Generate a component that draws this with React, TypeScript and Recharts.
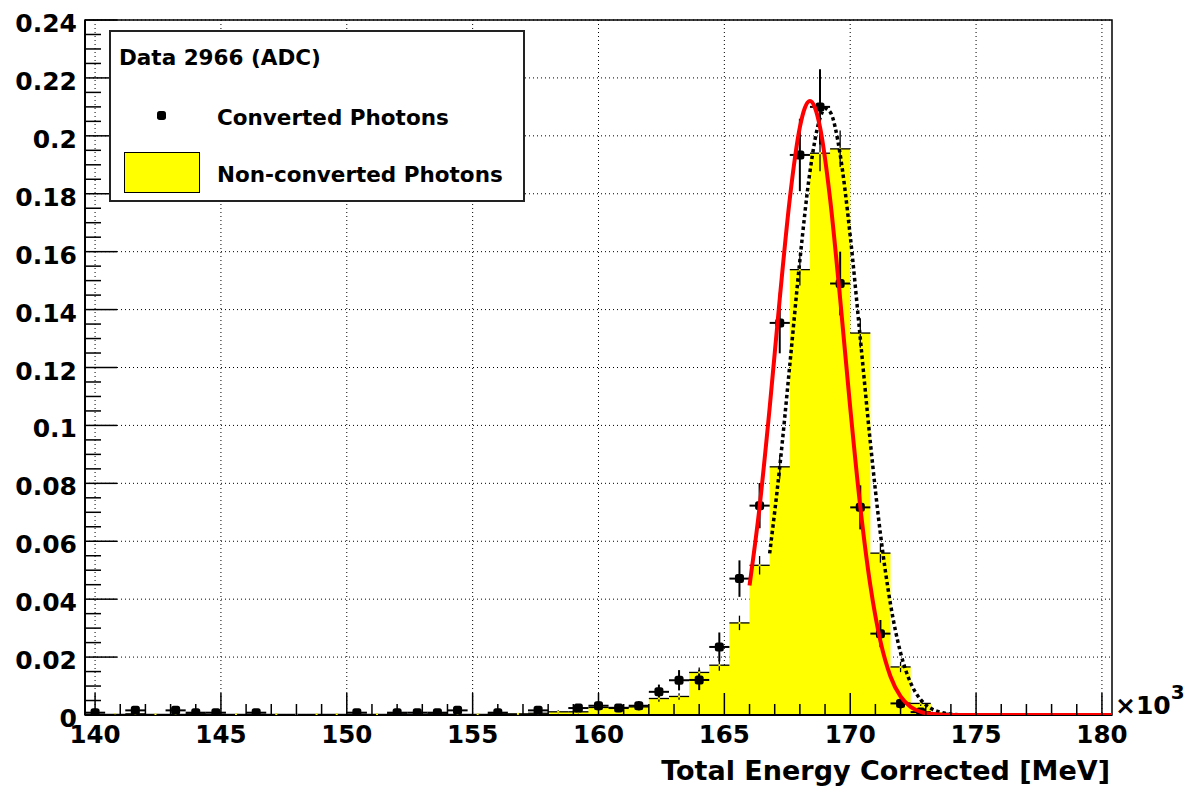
import {
  ComposedChart,
  Area,
  Scatter,
  ErrorBar,
  XAxis,
  YAxis,
  CartesianGrid,
  ReferenceArea,
  Legend,
} from 'recharts'

const WIDTH = 1186
const HEIGHT = 791
const FONT = '"DejaVu Sans", Verdana, sans-serif'

// histogram binning, x in units of 10^3 MeV
const BIN_START = 139.6
const BIN_WIDTH = 0.8

// normalised bin contents, 51 bins from 139.6 to 180.4
const convertedPhotons = [
  0.0008, 0, 0.0016, 0, 0.0016, 0.0008, 0.0008, 0, 0.0008, 0,
  0, 0, 0, 0.0008, 0, 0.0008, 0.0008, 0.0008, 0.0016, 0,
  0.0008, 0, 0.0016, 0, 0.0024, 0.0032, 0.0024, 0.0032, 0.008, 0.012,
  0.0121, 0.0235, 0.0471, 0.0723, 0.1354, 0.1934, 0.21, 0.149, 0.0717, 0.0281,
  0.004, 0.001, 0, 0, 0, 0, 0, 0, 0, 0, 0,
]
const convertedErrors = [
  0.0008, 0, 0.0011, 0, 0.0011, 0.0008, 0.0008, 0, 0.0008, 0,
  0, 0, 0, 0.0008, 0, 0.0008, 0.0008, 0.0008, 0.0011, 0,
  0.0008, 0, 0.0011, 0, 0.0014, 0.0016, 0.0014, 0.0016, 0.0025, 0.0035,
  0.0035, 0.005, 0.0063, 0.0078, 0.0105, 0.0125, 0.013, 0.011, 0.0076, 0.0047,
  0.0018, 0.0009, 0, 0, 0, 0, 0, 0, 0, 0, 0,
]
const nonConvertedPhotons = [
  0.0002, 0.0002, 0.0004, 0.0002, 0.0002, 0.0004, 0.0002, 0.0002, 0.0002, 0.0002,
  0.0002, 0.0002, 0.0002, 0.0002, 0.0002, 0.0004, 0.0002, 0.0004, 0.0002, 0.0002,
  0.0004, 0.0004, 0.0006, 0.0011, 0.0011, 0.0026, 0.0026, 0.0028, 0.0057, 0.0064,
  0.0147, 0.0172, 0.0318, 0.0517, 0.0857, 0.1538, 0.194, 0.1955, 0.1319, 0.0559,
  0.0166, 0.004, 0.0006, 0, 0, 0, 0, 0, 0, 0, 0,
]
const nonConvertedErrors = [
  0.0002, 0.0002, 0.0003, 0.0002, 0.0002, 0.0003, 0.0002, 0.0002, 0.0002, 0.0002,
  0.0002, 0.0002, 0.0002, 0.0002, 0.0002, 0.0003, 0.0002, 0.0003, 0.0002, 0.0002,
  0.0003, 0.0003, 0.0004, 0.0005, 0.0005, 0.0007, 0.0007, 0.0008, 0.0011, 0.0011,
  0.0017, 0.0019, 0.0025, 0.0032, 0.0041, 0.0055, 0.0062, 0.0063, 0.0051, 0.0033,
  0.0018, 0.0009, 0.0003, 0, 0, 0, 0, 0, 0, 0, 0,
]

// gaussian fit to the converted photons (red)
const convertedFitX = [
  166.0, 166.4, 166.8, 167.2, 167.6, 168.0, 168.2, 168.4, 168.6, 168.8,
  169.2, 169.6, 170.0, 170.4, 170.8, 171.2, 171.6, 172.0, 172.4, 172.8,
  173.2, 173.6, 174.2, 175.0, 176.0, 178.0, 180.4,
]
const convertedFitY = [
  0.0447, 0.0719, 0.1061, 0.1437, 0.1783, 0.203, 0.2097, 0.212, 0.2097, 0.203,
  0.1783, 0.1437, 0.1061, 0.0719, 0.0447, 0.0255, 0.0133, 0.0064, 0.0028, 0.0011,
  0.0004, 0.0001, 0, 0, 0, 0, 0,
]

// gaussian fit to the non-converted photons (black dotted)
const nonConvertedFitX = [
  166.8, 167.2, 167.6, 168.0, 168.4, 168.8, 169.0, 169.2, 169.6, 170.0,
  170.4, 170.8, 171.2, 171.6, 172.0, 172.4, 172.8, 173.2, 173.6, 174.0,
  174.8, 176.0, 178.0, 180.4,
]
const nonConvertedFitY = [
  0.0558, 0.0856, 0.1209, 0.157, 0.1876, 0.2061, 0.2094, 0.2083, 0.1936, 0.1655,
  0.1301, 0.0941, 0.0626, 0.0383, 0.0215, 0.0111, 0.0053, 0.0023, 0.0009, 0.0003,
  0, 0, 0, 0,
]

const xMajorTicks = [140, 145, 150, 155, 160, 165, 170, 175, 180]
const yMajorTicks = [0, 0.02, 0.04, 0.06, 0.08, 0.1, 0.12, 0.14, 0.16, 0.18, 0.2, 0.22, 0.24]

// minor ticks: every 1 on x, every 0.005 on y
const xAllTicks = Array.from({ length: 41 }, (_, i) => 140 + i)
const yAllTicks = Array.from({ length: 49 }, (_, i) => Number((i * 0.005).toFixed(3)))

const isMajor = (list: number[], v: number) => list.some((m) => Math.abs(m - v) < 1e-9)

// yellow histogram as a step area over the bin edges
const histEdges = nonConvertedPhotons.map((v, i) => ({ x: BIN_START + i * BIN_WIDTH, nonConv: v }))
histEdges.push({ x: BIN_START + nonConvertedPhotons.length * BIN_WIDTH, nonConv: 0 })

const binCenter = (i: number) => BIN_START + (i + 0.5) * BIN_WIDTH

const convertedPoints = convertedPhotons
  .map((y, i) => ({ x: binCenter(i), y, ex: BIN_WIDTH / 2, ey: convertedErrors[i] }))
  .filter((p) => p.y > 0)

const nonConvertedPoints = nonConvertedPhotons
  .map((y, i) => ({ x: binCenter(i), y, ex: BIN_WIDTH / 2, ey: nonConvertedErrors[i] }))
  .filter((p) => p.y > 0)

const convertedFit = convertedFitX.map((x, i) => ({ x, y: convertedFitY[i] }))
const nonConvertedFit = nonConvertedFitX.map((x, i) => ({ x, y: nonConvertedFitY[i] }))

const XTick = (props: any) => {
  const { x, y, payload } = props
  const major = isMajor(xMajorTicks, payload.value)
  return (
    <g>
      <line x1={x} x2={x} y1={y} y2={y - (major ? 22 : 11)} stroke="#000" strokeWidth={1.5} />
      {major && (
        <text x={x} y={y + 28} textAnchor="middle" fontFamily={FONT} fontWeight="bold" fontSize={24.5} fill="#000">
          {payload.value}
        </text>
      )}
    </g>
  )
}

const YTick = (props: any) => {
  const { x, y, payload } = props
  const major = isMajor(yMajorTicks, payload.value)
  return (
    <g>
      <line x1={x} x2={x + (major ? 32 : 16)} y1={y} y2={y} stroke="#000" strokeWidth={1.5} />
      {major && (
        <text x={x - 8} y={y + 12} textAnchor="end" fontFamily={FONT} fontWeight="bold" fontSize={25} fill="#000">
          {String(Number(payload.value.toFixed(2)))}
        </text>
      )}
    </g>
  )
}

const XTitle = (props: any) => {
  const { x, y, width } = props.viewBox
  const right = x + width
  return (
    <g fontFamily={FONT} fontWeight="bold" fill="#000">
      <text x={right - 2} y={y + 65} textAnchor="end" fontSize={27}>
        Total Energy Corrected [MeV]
      </text>
      <text x={right + 3} y={y - 1} fontSize={25}>
        ×10
        <tspan dy={-15} fontSize={20}>
          3
        </tspan>
      </text>
    </g>
  )
}

const LegendBox = () => (
  <div
    style={{
      width: 416,
      height: 172,
      boxSizing: 'border-box',
      border: '2px solid #222',
      background: '#fff',
      position: 'relative',
      fontFamily: FONT,
      fontWeight: 'bold',
      color: '#000',
      lineHeight: '22px',
      whiteSpace: 'nowrap',
    }}
  >
    <div style={{ position: 'absolute', left: 8, top: 15, fontSize: 21.5 }}>Data 2966 (ADC)</div>
    <div
      style={{
        position: 'absolute',
        left: 46,
        top: 79,
        width: 9,
        height: 9,
        borderRadius: '30%',
        background: '#000',
      }}
    />
    <div style={{ position: 'absolute', left: 106, top: 75, fontSize: 21.5 }}>Converted Photons</div>
    <div
      style={{
        position: 'absolute',
        left: 13,
        top: 120,
        width: 76,
        height: 41,
        boxSizing: 'border-box',
        border: '1.5px solid #000',
        background: '#ffff00',
      }}
    />
    <div style={{ position: 'absolute', left: 106, top: 132, fontSize: 21.5 }}>Non-converted Photons</div>
  </div>
)

// filled marker for the converted photons, a rounded square like the plotted points
const DotMarker = (props: any) => (
  <rect x={props.cx - 4.5} y={props.cy - 4.5} width={9} height={9} rx={2.5} fill="#000" />
)
const TinyMarker = (props: any) => (
  <rect x={props.cx - 1} y={props.cy - 1} width={2} height={2} fill="#ffff00" />
)
const NoMarker = () => <g />

export default function App() {
  return (
    <div style={{ position: 'absolute', left: 0, top: 0, width: WIDTH, height: HEIGHT, background: '#fff' }}>
      <ComposedChart
        width={WIDTH}
        height={HEIGHT}
        data={histEdges}
        margin={{ top: 20, right: 74, bottom: 75, left: 84 }}
      >
        <CartesianGrid
          stroke="#000"
          strokeDasharray="1 3"
          verticalValues={xMajorTicks}
          horizontalValues={yMajorTicks}
        />
        <XAxis
          type="number"
          dataKey="x"
          domain={[BIN_START, BIN_START + 51 * BIN_WIDTH]}
          allowDataOverflow
          ticks={xAllTicks}
          interval={0}
          tickSize={0}
          tickMargin={0}
          tickLine={false}
          tick={<XTick />}
          axisLine={{ stroke: '#000', strokeWidth: 2 }}
          height={1}
          label={<XTitle />}
        />
        <YAxis
          type="number"
          domain={[0, 0.24]}
          allowDataOverflow
          ticks={yAllTicks}
          interval={0}
          tickSize={0}
          tickMargin={0}
          tickLine={false}
          tick={<YTick />}
          axisLine={{ stroke: '#000', strokeWidth: 2 }}
          width={1}
        />
        <Area
          type="stepAfter"
          dataKey="nonConv"
          stroke="none"
          fill="#ffff00"
          fillOpacity={1}
          isAnimationActive={false}
        />
        <ReferenceArea
          x1={BIN_START}
          x2={BIN_START + 51 * BIN_WIDTH}
          y1={0}
          y2={0.24}
          fill="none"
          stroke="#000"
          strokeWidth={1.5}
        />
        <Scatter data={nonConvertedPoints} dataKey="y" shape={<TinyMarker />} isAnimationActive={false}>
          <ErrorBar dataKey="ex" direction="x" width={0} stroke="#000" strokeWidth={1.3} />
          <ErrorBar dataKey="ey" direction="y" width={0} stroke="#000" strokeWidth={1.3} />
        </Scatter>
        <Scatter data={convertedPoints} dataKey="y" shape={<DotMarker />} isAnimationActive={false}>
          <ErrorBar dataKey="ex" direction="x" width={0} stroke="#000" strokeWidth={2} />
          <ErrorBar dataKey="ey" direction="y" width={0} stroke="#000" strokeWidth={2} />
        </Scatter>
        <Scatter
          data={nonConvertedFit}
          dataKey="y"
          shape={<NoMarker />}
          line={{ stroke: '#000', strokeWidth: 3.5, strokeDasharray: '3.5 3' }}
          lineType="joint"
          lineJointType="monotoneX"
          isAnimationActive={false}
        />
        <Scatter
          data={convertedFit}
          dataKey="y"
          shape={<NoMarker />}
          line={{ stroke: '#ff0000', strokeWidth: 4 }}
          lineType="joint"
          lineJointType="monotoneX"
          isAnimationActive={false}
        />
        <Legend
          layout="vertical"
          align="center"
          verticalAlign="middle"
          content={<LegendBox />}
          wrapperStyle={{ left: 109, top: 30, width: 416, height: 172 }}
        />
      </ComposedChart>
    </div>
  )
}
